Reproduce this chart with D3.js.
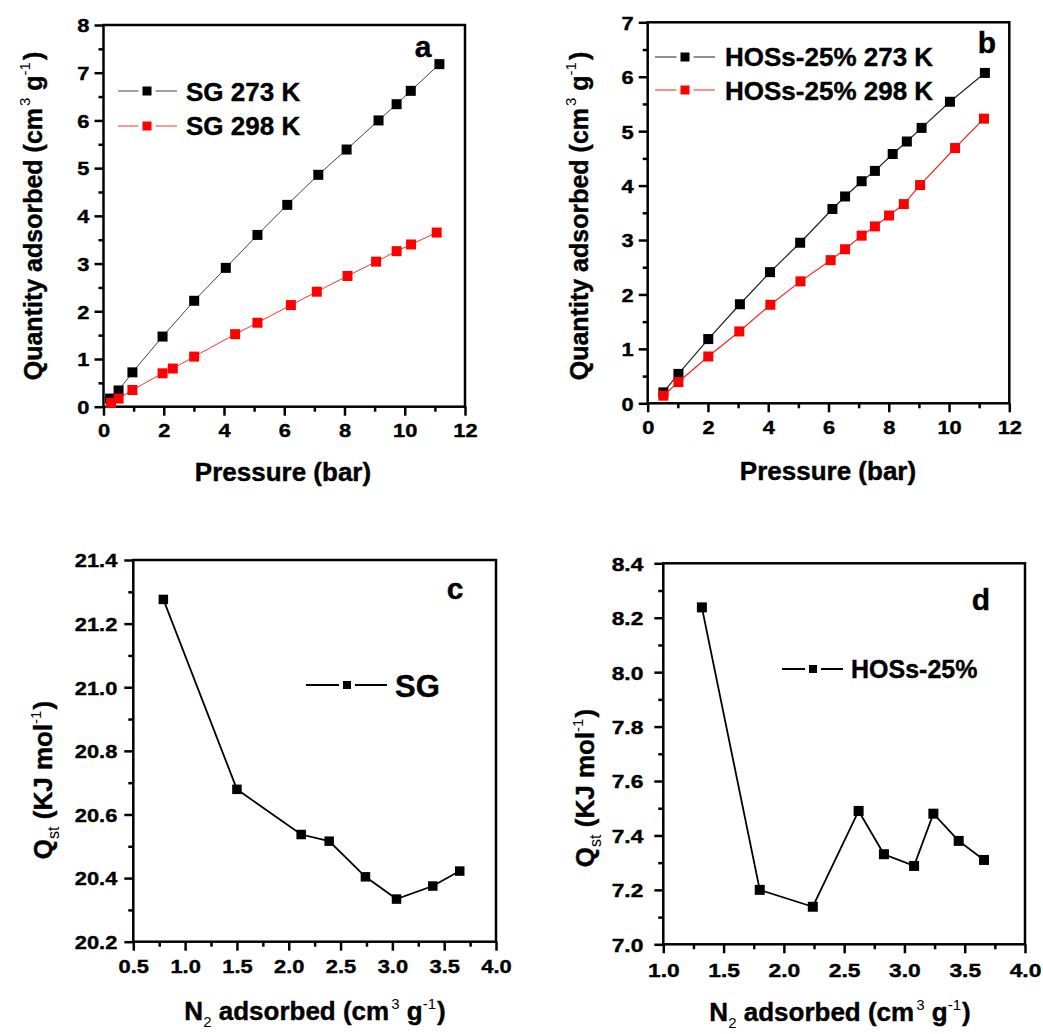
<!DOCTYPE html>
<html>
<head>
<meta charset="utf-8">
<script src="https://cdn.jsdelivr.net/npm/d3@7/dist/d3.min.js"></script>
<style>
  body { margin: 0; background: #fff; }
  svg { display: block; }
  text { font-family: "Liberation Sans", Arial, sans-serif; font-weight: bold; fill: #000; stroke: #000; stroke-width: 0.4px; }
</style>
</head>
<body>
<svg id="chart" width="1043" height="1034"></svg>
<script>
// panel a - SG isotherms
var sg273Pressure = [0.22, 0.5, 0.96, 1.96, 3.01, 4.06, 5.11, 6.1, 7.13, 8.07, 9.13, 9.73, 10.2, 11.15];
var sg273Quantity = [0.17, 0.34, 0.72, 1.47, 2.22, 2.91, 3.6, 4.23, 4.86, 5.39, 6.0, 6.34, 6.62, 7.18];
var sg298Pressure = [0.25, 0.5, 0.96, 1.96, 2.3, 3.01, 4.37, 5.11, 6.22, 7.08, 8.1, 9.05, 9.73, 10.21, 11.06];
var sg298Quantity = [0.08, 0.17, 0.35, 0.7, 0.8, 1.05, 1.52, 1.76, 2.13, 2.41, 2.74, 3.04, 3.26, 3.4, 3.65];

// panel b - HOSs-25% isotherms
var hos273Pressure = [0.52, 1.02, 2.01, 3.06, 4.06, 5.06, 6.13, 6.55, 7.1, 7.54, 8.13, 8.6, 9.09, 10.03, 11.19];
var hos273Quantity = [0.2, 0.54, 1.18, 1.82, 2.41, 2.95, 3.57, 3.8, 4.08, 4.27, 4.58, 4.81, 5.06, 5.54, 6.07];
var hos298Pressure = [0.52, 1.02, 2.01, 3.04, 4.07, 5.07, 6.07, 6.55, 7.1, 7.54, 8.01, 8.5, 9.04, 10.2, 11.16];
var hos298Quantity = [0.14, 0.39, 0.86, 1.32, 1.81, 2.24, 2.63, 2.83, 3.08, 3.25, 3.45, 3.66, 4.01, 4.69, 5.23];

// panel c - SG isosteric heat
var sgN2 = [0.79, 1.5, 2.12, 2.39, 2.74, 3.04, 3.39, 3.65];
var sgQst = [21.276, 20.679, 20.537, 20.516, 20.404, 20.334, 20.375, 20.422];

// panel d - HOSs-25% isosteric heat
var hosN2 = [1.32, 1.8, 2.24, 2.62, 2.83, 3.08, 3.24, 3.45, 3.66];
var hosQst = [8.238, 7.2, 7.138, 7.49, 7.331, 7.288, 7.48, 7.38, 7.31];

// ticks
var pressureTicks = [0, 2, 4, 6, 8, 10, 12];
var pressureMinor = [1, 3, 5, 7, 9, 11];
var quantityTicksA = [0, 1, 2, 3, 4, 5, 6, 7, 8];
var quantityTicksB = [0, 1, 2, 3, 4, 5, 6, 7];
var n2TicksC = [0.5, 1.0, 1.5, 2.0, 2.5, 3.0, 3.5, 4.0];
var n2TicksD = [1.0, 1.5, 2.0, 2.5, 3.0, 3.5, 4.0];
var qstTicksC = [20.2, 20.4, 20.6, 20.8, 21.0, 21.2, 21.4];
var qstTicksD = [7.0, 7.2, 7.4, 7.6, 7.8, 8.0, 8.2, 8.4];

var svg = d3.select("#chart");

function zip(xs, ys) { return xs.map((d, i) => [d, ys[i]]); }

function drawPanel(p) {
  var x = d3.scaleLinear().domain(p.xDomain).range([p.left, p.right]);
  var y = d3.scaleLinear().domain(p.yDomain).range([p.bottom, p.top]);
  var g = svg.append("g");

  //minor ticks
  g.append("g").attr("transform", `translate(0,${p.bottom})`)
    .call(d3.axisBottom(x).tickValues(p.xMinor).tickSize(5).tickFormat(""))
    .call(a => a.select(".domain").remove());
  g.append("g").attr("transform", `translate(${p.left},0)`)
    .call(d3.axisLeft(y).tickValues(p.yMinor).tickSize(5).tickFormat(""))
    .call(a => a.select(".domain").remove());

  //major ticks
  var xa = g.append("g").attr("transform", `translate(0,${p.bottom})`)
    .call(d3.axisBottom(x).tickValues(p.xTicks).tickSize(9).tickPadding(p.xPad).tickFormat(p.xFormat))
    .call(a => a.select(".domain").remove());
  var ya = g.append("g").attr("transform", `translate(${p.left},0)`)
    .call(d3.axisLeft(y).tickValues(p.yTicks).tickSize(9).tickFormat(p.yFormat))
    .call(a => a.select(".domain").remove());
  g.selectAll(".tick line").attr("stroke", "#000").attr("stroke-width", 2.5);
  xa.selectAll("text").attr("font-size", p.tickFont).attr("font-family", null)
    .attr("transform", `scale(${p.sx},1)`);
  ya.selectAll("text").attr("font-size", p.tickFont).attr("font-family", null)
    .attr("x", -p.yGap / p.sx).attr("dy", "0.36em").attr("transform", `scale(${p.sx},1)`);

  //frame
  g.append("rect")
    .attr("x", p.left).attr("y", p.top)
    .attr("width", p.right - p.left).attr("height", p.bottom - p.top)
    .attr("fill", "none").attr("stroke", "#000").attr("stroke-width", 2.5);

  var line = d3.line().x(d => x(d[0])).y(d => y(d[1]));
  p.series.forEach(function(s) {
    var pts = zip(s.xs, s.ys);
    g.append("path").datum(pts)
      .attr("d", line).attr("fill", "none")
      .attr("stroke", s.line).attr("stroke-width", s.width);
    g.append("g").selectAll("rect")
      .data(pts).enter().append("rect")
        .attr("x", d => x(d[0]) - s.size / 2)
        .attr("y", d => y(d[1]) - s.size / 2)
        .attr("width", s.size).attr("height", s.size)
        .attr("fill", s.color);

    //legend entry
    var L = s.legend;
    g.append("line")
      .attr("x1", L.x1).attr("x2", L.x2).attr("y1", L.y).attr("y2", L.y)
      .attr("stroke", s.line).attr("stroke-width", s.width);
    g.append("rect")
      .attr("x", L.mx - L.ms / 2 - 4).attr("y", L.y - L.ms / 2 - 1)
      .attr("width", L.ms + 8).attr("height", L.ms + 2).attr("fill", "#fff");
    g.append("rect")
      .attr("x", L.mx - L.ms / 2).attr("y", L.y - L.ms / 2)
      .attr("width", L.ms).attr("height", L.ms).attr("fill", s.color);
    g.append("text")
      .attr("x", L.tx).attr("y", L.ty)
      .attr("font-size", L.font)
      .text(s.name);
  });

  //panel letter
  g.append("text").attr("x", p.letterX).attr("y", p.letterY)
    .attr("font-size", 30).attr("text-anchor", "middle").text(p.letter);

  //axis titles
  var xt = g.append("text").attr("x", p.xTitleX).attr("y", p.xTitleY)
    .attr("font-size", 26).attr("text-anchor", "middle");
  p.xTitle(xt);
  var yt = g.append("text")
    .attr("transform", `translate(${p.yTitleX},${p.yTitleY}) rotate(-90)`)
    .attr("font-size", p.yTitleFont).attr("text-anchor", "middle");
  p.yTitle(yt);
}

function supStyle(t) { return t.attr("font-size", 15).attr("font-weight", "normal").style("stroke-width", "0px"); }

function quantityTitle(t) {
  t.append("tspan").text("Quantity adsorbed (cm");
  supStyle(t.append("tspan")).attr("dy", -12).attr("dx", 2).text("3");
  t.append("tspan").attr("dy", 12).text(" g");
  supStyle(t.append("tspan")).attr("dy", -12).text("-1");
  t.append("tspan").attr("dy", 12).attr("dx", 2).text(")");
}
function pressureTitle(t) { t.text("Pressure (bar)"); }
function n2Title(t) {
  t.append("tspan").text("N");
  supStyle(t.append("tspan")).attr("dy", 7).text("2");
  t.append("tspan").attr("dy", -7).text(" adsorbed (cm");
  supStyle(t.append("tspan")).attr("dy", -11).attr("dx", 2).text("3");
  t.append("tspan").attr("dy", 11).text(" g");
  supStyle(t.append("tspan")).attr("dy", -11).text("-1");
  t.append("tspan").attr("dy", 11).attr("dx", 1).text(")");
}
function qstTitle(t) {
  t.append("tspan").text("Q");
  supStyle(t.append("tspan")).attr("font-size", 16).attr("dy", 7).text("st");
  t.append("tspan").attr("dy", -7).text(" (KJ mol");
  supStyle(t.append("tspan")).attr("dy", -11).text("-1");
  t.append("tspan").attr("dy", 11).attr("dx", 1).text(")");
}

drawPanel({
  left: 103.5, right: 465, top: 25, bottom: 406.7,
  xDomain: [0, 12], yDomain: [0, 8],
  xTicks: pressureTicks, xMinor: pressureMinor,
  yTicks: quantityTicksA, yMinor: quantityTicksA.slice(0, -1).map(d => d + 0.5),
  xFormat: d3.format("d"), yFormat: d3.format("d"),
  tickFont: 19, sx: 1.15, xPad: 8, yGap: 14,
  letter: "a", letterX: 423, letterY: 57,
  xTitle: pressureTitle, xTitleX: 283, xTitleY: 481,
  yTitle: quantityTitle, yTitleX: 42, yTitleY: 216, yTitleFont: 25,
  series: [
    {name: "SG 273 K", xs: sg273Pressure, ys: sg273Quantity, color: "#000", line: "#444", width: 1, size: 10,
     legend: {x1: 118, x2: 177, mx: 147, ms: 9, y: 91, tx: 186, ty: 101, font: 26}},
    {name: "SG 298 K", xs: sg298Pressure, ys: sg298Quantity, color: "#f00", line: "#f33", width: 1, size: 10,
     legend: {x1: 118, x2: 177, mx: 147, ms: 9, y: 126, tx: 186, ty: 135, font: 26}}
  ]
});

drawPanel({
  left: 647.7, right: 1009.3, top: 22.3, bottom: 403.3,
  xDomain: [0, 12], yDomain: [0, 7],
  xTicks: pressureTicks, xMinor: pressureMinor,
  yTicks: quantityTicksB, yMinor: quantityTicksB.slice(0, -1).map(d => d + 0.5),
  xFormat: d3.format("d"), yFormat: d3.format("d"),
  tickFont: 19, sx: 1.15, xPad: 8, yGap: 14,
  letter: "b", letterX: 987, letterY: 53,
  xTitle: pressureTitle, xTitleX: 828, xTitleY: 480,
  yTitle: quantityTitle, yTitleX: 588, yTitleY: 216, yTitleFont: 25,
  series: [
    {name: "HOSs-25% 273 K", xs: hos273Pressure, ys: hos273Quantity, color: "#000", line: "#222", width: 1.2, size: 10,
     legend: {x1: 655, x2: 715, mx: 685, ms: 9, y: 57, tx: 725, ty: 66, font: 26}},
    {name: "HOSs-25% 298 K", xs: hos298Pressure, ys: hos298Quantity, color: "#f00", line: "#f22", width: 1.2, size: 10,
     legend: {x1: 655, x2: 715, mx: 685, ms: 9, y: 90, tx: 725, ty: 100, font: 26}}
  ]
});

drawPanel({
  left: 133.3, right: 496, top: 560, bottom: 941.7,
  xDomain: [0.5, 4], yDomain: [20.2, 21.4],
  xTicks: n2TicksC, xMinor: n2TicksC.slice(0, -1).map(d => d + 0.25),
  yTicks: qstTicksC, yMinor: qstTicksC.slice(0, -1).map(d => d + 0.1),
  xFormat: d3.format(".1f"), yFormat: d3.format(".1f"),
  tickFont: 19, sx: 1.15, xPad: 9, yGap: 16,
  letter: "c", letterX: 455, letterY: 599,
  xTitle: n2Title, xTitleX: 315, xTitleY: 1020,
  yTitle: qstTitle, yTitleX: 52, yTitleY: 780, yTitleFont: 26,
  series: [
    {name: "SG", xs: sgN2, ys: sgQst, color: "#000", line: "#000", width: 1.8, size: 9.5,
     legend: {x1: 306, x2: 387, mx: 347, ms: 8, y: 685, tx: 395, ty: 697, font: 31}}
  ]
});

drawPanel({
  left: 663.3, right: 1025, top: 563.3, bottom: 944.3,
  xDomain: [1, 4], yDomain: [7, 8.4],
  xTicks: n2TicksD, xMinor: n2TicksD.slice(0, -1).map(d => d + 0.25),
  yTicks: qstTicksD, yMinor: qstTicksD.slice(0, -1).map(d => d + 0.1),
  xFormat: d3.format(".1f"), yFormat: d3.format(".1f"),
  tickFont: 19, sx: 1.2, xPad: 10, yGap: 20,
  letter: "d", letterX: 981, letterY: 610,
  xTitle: n2Title, xTitleX: 840, xTitleY: 1021,
  yTitle: qstTitle, yTitleX: 594, yTitleY: 788, yTitleFont: 26,
  series: [
    {name: "HOSs-25%", xs: hosN2, ys: hosQst, color: "#000", line: "#000", width: 1.8, size: 10,
     legend: {x1: 782, x2: 843, mx: 813, ms: 8, y: 669, tx: 851, ty: 678, font: 25}}
  ]
});
</script>
</body>
</html>
